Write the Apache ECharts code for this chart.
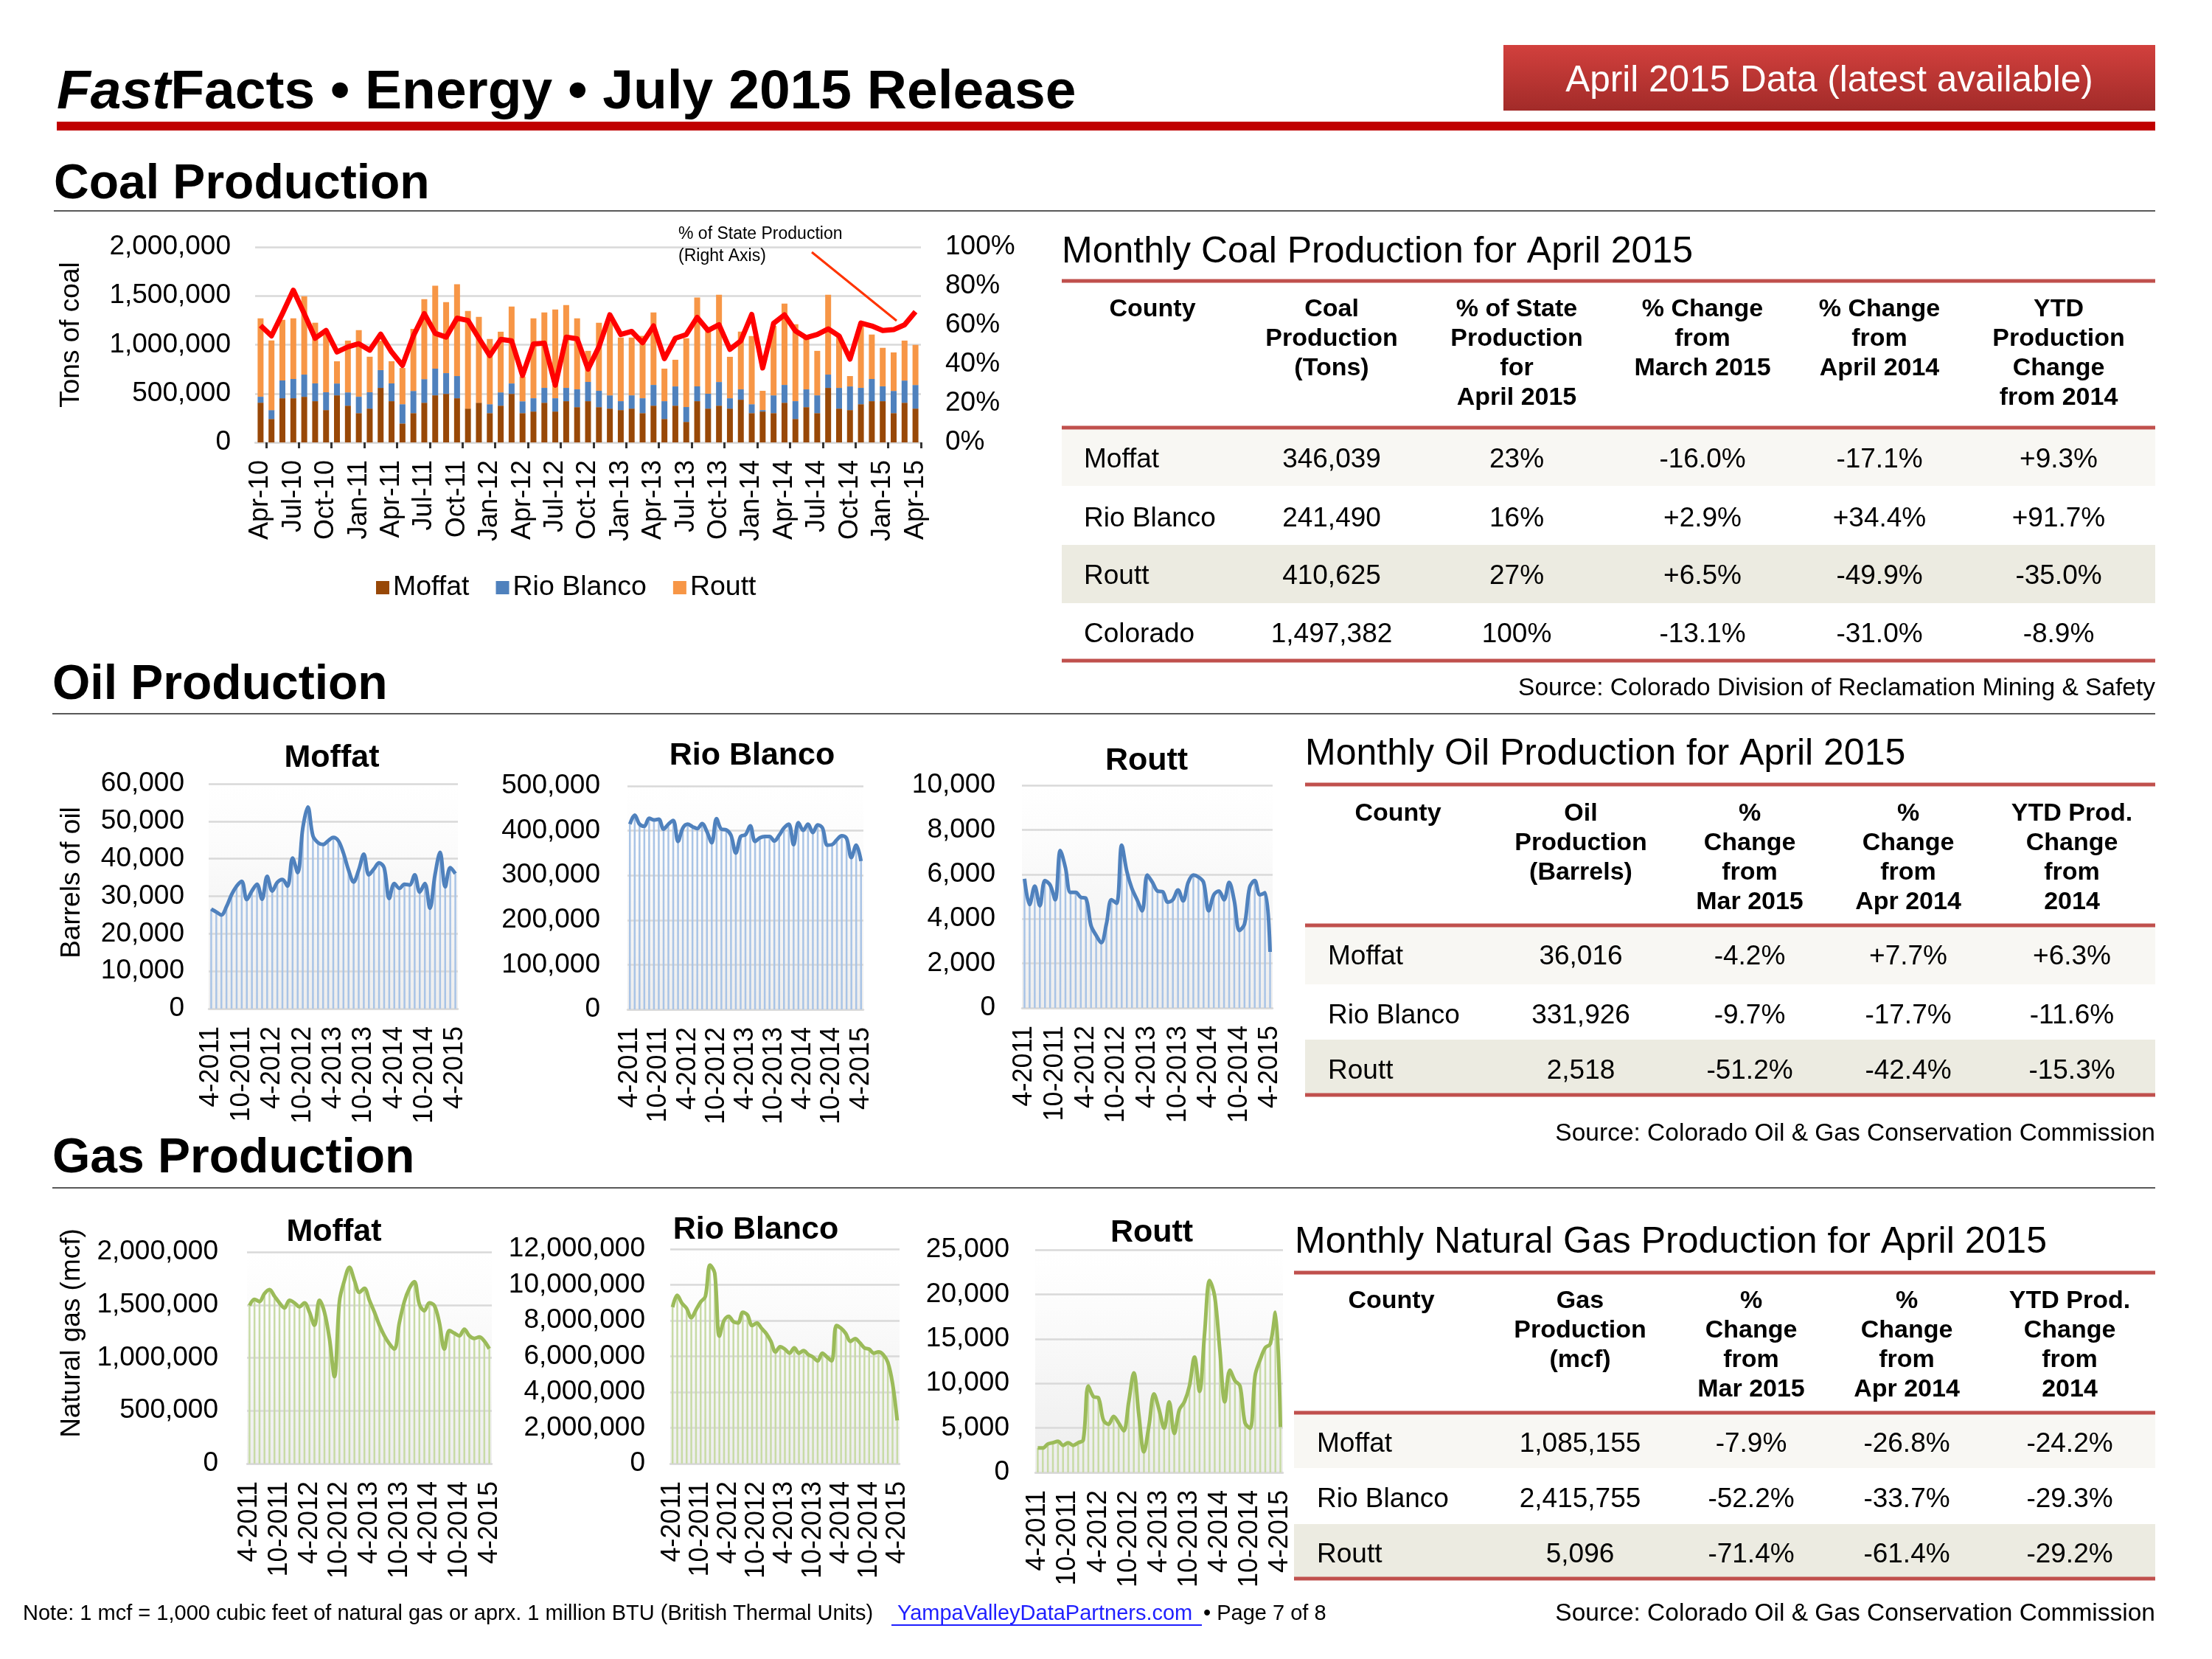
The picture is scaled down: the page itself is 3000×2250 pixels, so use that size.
<!DOCTYPE html>
<html><head><meta charset="utf-8">
<script src="https://cdn.jsdelivr.net/npm/echarts@6/dist/echarts.min.js"></script>
<style>html,body{margin:0;padding:0;background:#fff}#c{width:3000px;height:2250px}</style>
</head><body><div id="c"></div>
<script>
// ---------------- DATA ----------------
const coalMonths = ['Apr-10','May-10','Jun-10','Jul-10','Aug-10','Sep-10','Oct-10','Nov-10','Dec-10',
'Jan-11','Feb-11','Mar-11','Apr-11','May-11','Jun-11','Jul-11','Aug-11','Sep-11','Oct-11','Nov-11','Dec-11',
'Jan-12','Feb-12','Mar-12','Apr-12','May-12','Jun-12','Jul-12','Aug-12','Sep-12','Oct-12','Nov-12','Dec-12',
'Jan-13','Feb-13','Mar-13','Apr-13','May-13','Jun-13','Jul-13','Aug-13','Sep-13','Oct-13','Nov-13','Dec-13',
'Jan-14','Feb-14','Mar-14','Apr-14','May-14','Jun-14','Jul-14','Aug-14','Sep-14','Oct-14','Nov-14','Dec-14',
'Jan-15','Feb-15','Mar-15','Apr-15'];
const coalMoffat = [406500,240000,452000,452000,467000,422000,331000,482000,376000,300000,
346000,558000,422000,194000,300000,406000,482000,497000,452000,346000,
406000,300000,376000,497000,300000,316000,406000,316000,422000,361000,
422000,361000,346000,331000,346000,300000,376000,240000,376000,210000,
422000,346000,376000,346000,437000,300000,316000,300000,406000,240000,
361000,300000,558000,346000,331000,391000,422000,422000,300000,406000,346039];
const coalRioBlanco = [60600,91000,182000,197000,227000,182000,182000,121000,136000,167000,
167000,182000,182000,197000,227000,242000,273000,212000,227000,0,
0,91000,136000,106000,121000,136000,152000,136000,136000,182000,
197000,167000,136000,91000,136000,152000,212000,182000,197000,152000,
152000,152000,242000,106000,106000,91000,15000,182000,182000,182000,
182000,182000,136000,212000,242000,167000,227000,152000,227000,227000,241490];
const coalRoutt = [803000,712000,621000,621000,803000,621000,591000,227000,530000,682000,
364000,300000,227000,371000,636000,818000,848000,727000,939000,1000000,
879000,667000,621000,788000,253000,818000,773000,909000,848000,727000,
318000,697000,750000,651000,591000,639000,742000,333000,273000,704000,
909000,682000,894000,424000,591000,697000,197000,710000,833000,788000,
523000,455000,818000,533000,106000,646000,455000,394000,394000,409000,410625];
const coalStateShare = [59.8,54.5,65.9,77.9,65.9,53.3,57.3,46.3,48.9,50.5,
47.2,55.4,46.3,39.4,54.5,65.9,55.8,53.9,63.6,62.4,
53.3,44.4,52.7,52.0,34.3,50.4,50.8,29.3,53.9,53.0,
37.5,48.9,65.3,55.2,56.8,51.0,59.6,42.9,53.3,55.2,
64.0,57.3,60.2,47.6,52.0,65.5,38.1,60.9,65.3,57.1,
53.6,55.2,58.1,54.5,42.6,61.1,59.6,57.3,57.7,60.2,66.9];

const prodMonths = ['4-2011','5-2011','6-2011','7-2011','8-2011','9-2011','10-2011','11-2011','12-2011',
'1-2012','2-2012','3-2012','4-2012','5-2012','6-2012','7-2012','8-2012','9-2012','10-2012','11-2012','12-2012',
'1-2013','2-2013','3-2013','4-2013','5-2013','6-2013','7-2013','8-2013','9-2013','10-2013','11-2013','12-2013',
'1-2014','2-2014','3-2014','4-2014','5-2014','6-2014','7-2014','8-2014','9-2014','10-2014','11-2014','12-2014',
'1-2015','2-2015','3-2015','4-2015'];

const oilMoffat = [26600,25800,25000,27200,30400,32700,34000,29100,31400,33200,
29200,35300,31400,33700,34500,32700,40200,36300,48100,53800,
46100,44300,43800,44800,45700,44800,41500,37000,33800,37000,
41200,35700,37300,38900,37600,29400,33400,32100,33200,33000,
35700,31100,33400,26800,35700,41700,32500,37600,36016];
const oilRioBlanco = [414600,435000,414600,410000,428000,424000,425600,403500,414600,422800,
376000,406000,414600,409000,404600,416000,398000,373000,427000,403500,
402000,389700,350000,387000,391000,410700,376000,384000,387000,387000,
377000,389700,406000,414600,368800,418000,400800,414600,396000,413000,
406000,367700,368800,380000,388600,383000,340000,367700,331926];
const oilRoutt = [5800,4640,5470,4590,5720,5520,4860,7070,6300,5190,
5190,4970,4920,3700,3260,2930,3760,4860,4700,7310,
6130,5360,4860,4360,5970,5640,5250,5220,4750,4860,
5300,4810,5640,5970,5880,5640,4360,5080,5250,4860,
5640,4810,3480,3760,5410,5720,5080,5170,2518];

const gasMoffat = [1494000,1552000,1532000,1607000,1644000,1582000,1519000,1470000,1544000,1519000,
1482000,1519000,1432000,1308000,1544000,1432000,1183000,822000,1532000,1731000,
1856000,1731000,1619000,1656000,1544000,1432000,1308000,1208000,1133000,1083000,
1333000,1532000,1656000,1719000,1507000,1445000,1519000,1494000,1333000,1083000,
1258000,1233000,1208000,1270000,1208000,1183000,1196000,1158000,1085155];
const gasRioBlanco = [8750000,9410000,8970000,8680000,8160000,8600000,9040000,9340000,11100000,10660000,
7130000,8010000,8240000,7940000,7870000,8460000,8310000,7720000,7870000,7570000,
7280000,6840000,6250000,6540000,6400000,6180000,6470000,6180000,6320000,6100000,
5960000,5740000,6180000,5960000,5740000,7720000,7570000,7280000,6840000,6990000,
6760000,6470000,6400000,6180000,6250000,6100000,5660000,4490000,2415755];
const gasRoutt = [2750,2750,3200,3340,3490,3050,3340,3050,3340,3640,
9710,8520,8370,5860,5420,6300,5560,4680,7930,11180,
6450,2310,5270,8820,7040,4970,7930,4380,7040,7930,
9710,12960,9110,15620,21540,19770,13850,7930,11480,10300,
9710,5560,4970,10890,12670,14000,14440,17990,5096];

const coalTableHead = [['County'],['Coal','Production','(Tons)'],['% of State','Production','for','April 2015'],
  ['% Change','from','March 2015'],['% Change','from','April 2014'],['YTD','Production','Change','from 2014']];
const coalTableRows = [['Moffat','346,039','23%','-16.0%','-17.1%','+9.3%'],
  ['Rio Blanco','241,490','16%','+2.9%','+34.4%','+91.7%'],
  ['Routt','410,625','27%','+6.5%','-49.9%','-35.0%'],
  ['Colorado','1,497,382','100%','-13.1%','-31.0%','-8.9%']];
const oilTableHead = [['County'],['Oil','Production','(Barrels)'],['%','Change','from','Mar 2015'],
  ['%','Change','from','Apr 2014'],['YTD Prod.','Change','from','2014']];
const oilTableRows = [['Moffat','36,016','-4.2%','+7.7%','+6.3%'],
  ['Rio Blanco','331,926','-9.7%','-17.7%','-11.6%'],
  ['Routt','2,518','-51.2%','-42.4%','-15.3%']];
const gasTableHead = [['County'],['Gas','Production','(mcf)'],['%','Change','from','Mar 2015'],
  ['%','Change','from','Apr 2014'],['YTD Prod.','Change','from','2014']];
const gasTableRows = [['Moffat','1,085,155','-7.9%','-26.8%','-24.2%'],
  ['Rio Blanco','2,415,755','-52.2%','-33.7%','-29.3%'],
  ['Routt','5,096','-71.4%','-61.4%','-29.2%']];

// ---------------- LAYOUT / STYLE ----------------
const FONT = '"Liberation Sans", Arial, Helvetica, sans-serif';
const GRIDC = '#d9d9d9';
const TABLE_RED = '#c0504d';
const TEXT_DY = 4;
const commas = v => Number(v).toLocaleString('en-US');

function T(x, y, text, size, o) {
  o = o || {};
  return { type:'text', x:x, y:o.rot ? y : y + TEXT_DY, rotation:o.rot||0, z:50, silent:true,
    style:{ text:text, fontSize:size, fontFamily:FONT, fontWeight:o.bold?'bold':'normal',
      fontStyle:o.italic?'italic':'normal', fill:o.fill||'#000', align:o.align||'left', verticalAlign:'middle' } };
}
function R(x, y, w, h, fill) { return { type:'rect', shape:{x:x,y:y,width:w,height:h}, style:{fill:fill}, z:1, silent:true }; }
function L(x1, y1, x2, y2, stroke, w) { return { type:'line', shape:{x1:x1,y1:y1,x2:x2,y2:y2}, style:{stroke:stroke,lineWidth:w}, z:2, silent:true }; }

function tableEls(t, head, rows) {
  const els = [];
  els.push(T(t.titleX, t.titleY, t.title, 50));
  t.bands.forEach(b => els.push(R(t.x0, b[0], t.x1 - t.x0, b[1] - b[0], b[2])));
  t.lines.forEach(y => els.push(L(t.x0, y, t.x1, y, TABLE_RED, 5)));
  head.forEach((lines, c) => lines.forEach((s, l) =>
    els.push(T(t.colX[c], t.headY0 + l * t.headDy - 2, s, 34, {bold:true, align:'center'}))));
  rows.forEach((row, r) => row.forEach((s, c) => {
    if (c === 0) els.push(T(t.countyX, t.rowY[r], s, 37));
    else els.push(T(t.colX[c], t.rowY[r], s, 37, {align:'center'}));
  }));
  els.push(T(t.x1, t.sourceY, t.source, 33.5, {align:'right'}));
  return els;
}

const coalLayout = { title:'Monthly Coal Production for April 2015', titleX:1440, titleY:338, x0:1440, x1:2923,
  lines:[381,580,896], headY0:418, headDy:40, colX:[1563,1806,2057,2309,2549,2792], countyX:1470,
  rowY:[620,700,778,857], bands:[[583,659,'#f8f7f3'],[739,818,'#ecebe1']],
  source:'Source: Colorado Division of Reclamation Mining & Safety', sourceY:930 };
const oilLayout = { title:'Monthly Oil Production for April 2015', titleX:1770, titleY:1019, x0:1770, x1:2923,
  lines:[1064,1255,1485], headY0:1102, headDy:40, colX:[1896,2144,2373,2588,2810], countyX:1801,
  rowY:[1294,1374,1449], bands:[[1257,1335,'#f8f7f3'],[1410,1484,'#ecebe1']],
  source:'Source: Colorado Oil & Gas Conservation Commission', sourceY:1534 };
const gasLayout = { title:'Monthly Natural Gas Production for April 2015', titleX:1756, titleY:1681, x0:1755, x1:2923,
  lines:[1726,1916,2141], headY0:1763, headDy:40, colX:[1887,2143,2375,2586,2807], countyX:1786,
  rowY:[1955,2030,2105], bands:[[1918,1991,'#f8f7f3'],[2067,2139,'#ecebe1']],
  source:'Source: Colorado Oil & Gas Conservation Commission', sourceY:2185 };

const plotBg = { type:'linear', x:0, y:0, x2:0, y2:1,
  colorStops:[{offset:0,color:'#ffffff'},{offset:0.25,color:'#fcfcfc'},{offset:1,color:'#ededed'}] };

const grids = [
  {left:346, top:335, width:903, height:265},
  {left:283, top:1063, width:338, height:305, show:true, backgroundColor:plotBg, borderWidth:0},
  {left:851, top:1066, width:320, height:303, show:true, backgroundColor:plotBg, borderWidth:0},
  {left:1386, top:1065, width:340, height:302, show:true, backgroundColor:plotBg, borderWidth:0},
  {left:335, top:1698, width:332, height:287, show:true, backgroundColor:plotBg, borderWidth:0},
  {left:909, top:1694, width:311, height:291, show:true, backgroundColor:plotBg, borderWidth:0},
  {left:1404, top:1695, width:336, height:302, show:true, backgroundColor:plotBg, borderWidth:0}
].map(g => Object.assign({outerBoundsMode:'none', containLabel:false}, g));

const xAxes = [{
  gridIndex:0, type:'category', data:coalMonths, boundaryGap:true,
  axisLine:{lineStyle:{color:GRIDC, width:2.5}},
  axisTick:{show:true, alignWithLabel:false, interval:(i) => i % 3 === 1, length:8, lineStyle:{color:'#333', width:3}},
  axisLabel:{interval:2, rotate:90, fontSize:36, margin:24, color:'#000', fontFamily:FONT}
}];
const yAxes = [
  {gridIndex:0, type:'value', min:0, max:2000000, interval:500000,
   axisLine:{show:false}, axisTick:{show:false},
   splitLine:{lineStyle:{color:GRIDC, width:2.5}},
   axisLabel:{fontSize:37, margin:33, color:'#000', fontFamily:FONT, formatter:commas}},
  {gridIndex:0, type:'value', position:'right', min:0, max:100, interval:20,
   axisLine:{show:false}, axisTick:{show:false}, splitLine:{show:false},
   axisLabel:{fontSize:37, margin:33, color:'#000', fontFamily:FONT, formatter:'{value}%'}}
];
const smallSpecs = [
  {grid:1, data:oilMoffat, max:60000, step:10000, margin:33, line:'#4f81bd', drop:'#a9c4e6'},
  {grid:2, data:oilRioBlanco, max:500000, step:100000, margin:37, line:'#4f81bd', drop:'#a9c4e6'},
  {grid:3, data:oilRoutt, max:10000, step:2000, margin:36, line:'#4f81bd', drop:'#a9c4e6'},
  {grid:4, data:gasMoffat, max:2000000, step:500000, margin:39, line:'#9bbb59', drop:'#c8dba6'},
  {grid:5, data:gasRioBlanco, max:12000000, step:2000000, margin:34, line:'#9bbb59', drop:'#c8dba6'},
  {grid:6, data:gasRoutt, max:25000, step:5000, margin:35, line:'#9bbb59', drop:'#c8dba6'}
];

const series = [
  {name:'Moffat', type:'bar', xAxisIndex:0, yAxisIndex:0, stack:'coal', barWidth:8, data:coalMoffat, itemStyle:{color:'#984807'}},
  {name:'Rio Blanco', type:'bar', xAxisIndex:0, yAxisIndex:0, stack:'coal', barWidth:8, data:coalRioBlanco, itemStyle:{color:'#4f81bd'}},
  {name:'Routt', type:'bar', xAxisIndex:0, yAxisIndex:0, stack:'coal', barWidth:8, data:coalRoutt, itemStyle:{color:'#f79646'}},
  {name:'% of State Production', type:'line', xAxisIndex:0, yAxisIndex:1, data:coalStateShare, symbol:'none',
   lineStyle:{color:'#ff0000', width:7, join:'round'}, z:5}
];

smallSpecs.forEach((s, k) => {
  const ax = k + 1;
  xAxes.push({gridIndex:s.grid, type:'category', data:prodMonths, boundaryGap:true,
    axisLine:{lineStyle:{color:GRIDC, width:2.5}}, axisTick:{show:false},
    axisLabel:{interval:5, rotate:90, fontSize:36, margin:24, color:'#000', fontFamily:FONT}});
  yAxes.push({gridIndex:s.grid, type:'value', min:0, max:s.max, interval:s.step,
    axisLine:{show:false}, axisTick:{show:false},
    splitLine:{lineStyle:{color:GRIDC, width:2.5}},
    axisLabel:{fontSize:37, margin:s.margin, color:'#000', fontFamily:FONT, formatter:commas}});
  series.push({type:'bar', xAxisIndex:ax, yAxisIndex:ax + 1, data:s.data, barWidth:2.5,
    itemStyle:{color:s.drop}, silent:true, z:2});
  series.push({type:'line', xAxisIndex:ax, yAxisIndex:ax + 1, data:s.data, smooth:0.35, symbol:'none',
    lineStyle:{color:s.line, width:5}, z:4});
});

// ---------------- GRAPHIC TEXT / DECOR ----------------
const els = [];
els.push({ type:'text', x:77, y:126, z:50, silent:true, style:{
  text:'{i|Fast}{b|Facts • Energy • July 2015 Release}', verticalAlign:'middle', align:'left',
  rich:{ i:{fontSize:75, fontWeight:'bold', fontStyle:'italic', fontFamily:FONT, fill:'#000'},
         b:{fontSize:75, fontWeight:'bold', fontFamily:FONT, fill:'#000'} } } });
els.push({ type:'rect', shape:{x:2039, y:61, width:884, height:89}, z:1, silent:true,
  style:{ fill:{type:'linear', x:0, y:0, x2:0, y2:1, colorStops:[{offset:0,color:'#d2403d'},{offset:1,color:'#a22b29'}]} } });
els.push(T(2481, 106, 'April 2015 Data (latest available)', 49.5, {align:'center', fill:'#ffffff'}));
els.push(R(77, 165, 2846, 12, '#c00000'));
els.push(T(73, 247, 'Coal Production', 66, {bold:true}));
els.push(L(73, 286, 2923, 286, '#595959', 2));
els.push(T(71, 926, 'Oil Production', 66, {bold:true}));
els.push(L(71, 968, 2923, 968, '#595959', 2));
els.push(T(71, 1568, 'Gas Production', 66, {bold:true}));
els.push(L(71, 1611, 2923, 1611, '#595959', 2));
els.push(T(97, 454, 'Tons of coal', 37, {align:'center', rot:Math.PI/2}));
els.push(T(98, 1197, 'Barrels of oil', 37, {align:'center', rot:Math.PI/2}));
els.push(T(98, 1808, 'Natural gas (mcf)', 37, {align:'center', rot:Math.PI/2}));
els.push(T(920, 314, '% of State Production', 23));
els.push(T(920, 344, '(Right Axis)', 23));
els.push(L(1101, 342, 1216, 435, '#ff3300', 3));
els.push(T(450, 1024, 'Moffat', 43, {bold:true, align:'center'}));
els.push(T(1020, 1021, 'Rio Blanco', 43, {bold:true, align:'center'}));
els.push(T(1555, 1028, 'Routt', 43, {bold:true, align:'center'}));
els.push(T(453, 1667, 'Moffat', 43, {bold:true, align:'center'}));
els.push(T(1025, 1664, 'Rio Blanco', 43, {bold:true, align:'center'}));
els.push(T(1562, 1668, 'Routt', 43, {bold:true, align:'center'}));
tableEls(coalLayout, coalTableHead, coalTableRows).forEach(e => els.push(e));
tableEls(oilLayout, oilTableHead, oilTableRows).forEach(e => els.push(e));
tableEls(gasLayout, gasTableHead, gasTableRows).forEach(e => els.push(e));
els.push(T(31, 2185, 'Note: 1 mcf = 1,000 cubic feet of natural gas or aprx. 1 million BTU (British Thermal Units)', 29));
els.push(T(1217, 2185, 'YampaValleyDataPartners.com', 29, {fill:'#1f1fff'}));
els.push(L(1209, 2204, 1630, 2204, '#1f1fff', 2));
els.push(T(1632, 2185, '• Page 7 of 8', 29));

const option = {
  animation:false,
  backgroundColor:'#ffffff',
  textStyle:{fontFamily:FONT},
  grid:grids,
  xAxis:xAxes,
  yAxis:yAxes,
  legend:{ data:['Moffat','Rio Blanco','Routt'], left:505, top:773, icon:'rect', itemWidth:18, itemHeight:18,
    itemGap:36, textStyle:{fontSize:37.5, color:'#000', fontFamily:FONT} },
  series:series,
  graphic:{elements:els}
};

const chart = echarts.init(document.getElementById('c'), null, {width:3000, height:2250});
chart.setOption(option);
</script>
</body></html>
